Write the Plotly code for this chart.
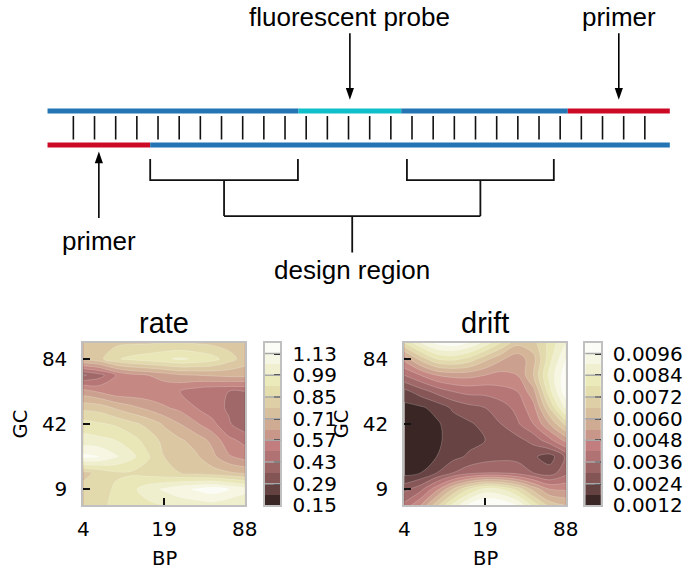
import numpy as np
import plotly.graph_objects as go

W, H = 696, 580

# ---------------- data ----------------
bp_ticktext = ['4', '19', '88']
bp_tickpos = [0, 5, 10]
gc_ticktext = ['9', '42', '84']
gc_tickpos = [1, 5, 9]
grid_x = list(range(11))
grid_y = list(range(11))

# rows listed top (high GC) -> bottom (low GC)
rate_rows = [
    [0.74, 0.75, 0.76, 0.77, 0.77, 0.78, 0.78, 0.77, 0.76, 0.75, 0.74],
    [0.73, 0.76, 0.84, 0.87, 0.89, 0.91, 0.93, 0.91, 0.88, 0.81, 0.75],
    [0.35, 0.40, 0.50, 0.55, 0.57, 0.60, 0.63, 0.64, 0.65, 0.66, 0.66],
    [0.60, 0.56, 0.52, 0.52, 0.52, 0.52, 0.50, 0.46, 0.44, 0.43, 0.43],
    [0.76, 0.75, 0.70, 0.66, 0.62, 0.58, 0.55, 0.50, 0.46, 0.42, 0.40],
    [0.88, 0.86, 0.84, 0.80, 0.76, 0.70, 0.64, 0.58, 0.52, 0.44, 0.38],
    [0.95, 0.94, 0.92, 0.88, 0.82, 0.76, 0.72, 0.68, 0.62, 0.52, 0.48],
    [1.08, 1.06, 1.00, 0.94, 0.86, 0.78, 0.76, 0.72, 0.66, 0.58, 0.54],
    [0.76, 0.80, 0.84, 0.84, 0.82, 0.80, 0.78, 0.76, 0.74, 0.72, 0.70],
    [0.80, 0.82, 0.86, 0.90, 0.96, 1.00, 1.04, 1.07, 1.10, 1.06, 1.02],
    [0.82, 0.84, 0.86, 0.88, 0.90, 0.92, 0.94, 0.95, 0.96, 0.94, 0.92],
]
drift_rows = [
    [0.0072, 0.0084, 0.0092, 0.0094, 0.0090, 0.0082, 0.0072, 0.0062, 0.0064, 0.0074, 0.0084],
    [0.0050, 0.0062, 0.0072, 0.0074, 0.0070, 0.0062, 0.0055, 0.0050, 0.0058, 0.0076, 0.0090],
    [0.0036, 0.0042, 0.0048, 0.0050, 0.0050, 0.0048, 0.0046, 0.0048, 0.0060, 0.0080, 0.0094],
    [0.0022, 0.0027, 0.0032, 0.0036, 0.0038, 0.0038, 0.0040, 0.0042, 0.0052, 0.0076, 0.0094],
    [0.0016, 0.0017, 0.0020, 0.0025, 0.0028, 0.0030, 0.0033, 0.0038, 0.0046, 0.0066, 0.0086],
    [0.0013, 0.0014, 0.0017, 0.0021, 0.0023, 0.0026, 0.0030, 0.0035, 0.0042, 0.0054, 0.0068],
    [0.0013, 0.0014, 0.0017, 0.0020, 0.0022, 0.0024, 0.0025, 0.0028, 0.0032, 0.0040, 0.0050],
    [0.0014, 0.0015, 0.0018, 0.0022, 0.0025, 0.0027, 0.0028, 0.0028, 0.0025, 0.0021, 0.0031],
    [0.0016, 0.0018, 0.0024, 0.0030, 0.0034, 0.0036, 0.0036, 0.0034, 0.0030, 0.0027, 0.0034],
    [0.0028, 0.0034, 0.0046, 0.0060, 0.0072, 0.0080, 0.0078, 0.0070, 0.0058, 0.0048, 0.0047],
    [0.0038, 0.0048, 0.0064, 0.0080, 0.0092, 0.0098, 0.0096, 0.0090, 0.0076, 0.0064, 0.0060],
]
rate_edges = dict(lo=0.15, hi=1.20, step=0.07)
drift_edges = dict(lo=0.0012, hi=0.0102, step=0.0006)
rate_cbar_ticks = [0.15, 0.29, 0.43, 0.57, 0.71, 0.85, 0.99, 1.13]
drift_cbar_ticks = [0.0012, 0.0024, 0.0036, 0.0048, 0.0060, 0.0072, 0.0084, 0.0096]

# schematic DNA (positions in base-pair units along the strand)
strand_length = 29.4
top_segments = [(0.0, 11.86, 'blue'), (11.86, 16.71, 'cyan'), (16.71, 24.58, 'blue'), (24.58, 29.4, 'red')]
bottom_segments = [(0.0, 4.85, 'red'), (4.85, 29.4, 'blue')]
n_rungs = 28
first_rung = 1.22
design_left = (4.85, 11.83)
design_right = (16.98, 23.92)
labels_top = [('fluorescent probe', top_segments[1]), ('primer', top_segments[3])]
label_bottom = ('primer', bottom_segments[0])
label_design = 'design region'

# ---------------- styling ----------------
seg_colors = {'blue': '#2376b3', 'cyan': '#0fbfc9', 'red': '#cc0a26'}
PX_PER_BP = 21.76
X0_PX = 42.7
Y_TOP_STRAND, Y_BOT_STRAND = 112.5, 147.3
Y_RUNG = (117.7, 141.7)
Y_BRACKET = (161.7, 183.3, 220.0, 257.3)
FONT_SANS = 'Liberation Sans, Arial, sans-serif'
FONT_DJ = 'DejaVu Sans, sans-serif'
TICK_FS = 20
DIAG_FS = 26


def pink(x):
    x = np.asarray(x, dtype=float)
    rh = np.clip(x / 0.365079, 0, 1)
    gh = np.clip((x - 0.365079) / (0.746032 - 0.365079), 0, 1)
    bh = np.clip((x - 0.746032) / (1 - 0.746032), 0, 1)
    r = np.sqrt((2 * x + rh) / 3)
    g = np.sqrt((2 * x + gh) / 3)
    b = np.sqrt((2 * x + bh) / 3)
    return r, g, b


NB = 15
band_cols = []
for i in range(NB):
    r, g, b = pink((i + 0.5) / NB)
    band_cols.append('rgb(%d,%d,%d)' % (round(float(r) * 255), round(float(g) * 255), round(float(b) * 255)))
cscale = [[i / (NB - 1), c] for i, c in enumerate(band_cols)]

fig = go.Figure()


def dx(a, b):
    return [a / W, b / W]


def dy(top, bot):
    return [(H - bot) / H, (H - top) / H]


PLOT_TOP, PLOT_BOT = 349.5, 516.0
plots = [
    dict(name='rate', rows=rate_rows, edges=rate_edges, ticks=rate_cbar_ticks, fmt='%.2f',
         xd=dx(79.5, 245.5), cbd=dx(266.2, 282.2), xa='x', ya='y', cxa='x3', cya='y3'),
    dict(name='drift', rows=drift_rows, edges=drift_edges, ticks=drift_cbar_ticks, fmt='%.4f',
         xd=dx(409.5, 575.5), cbd=dx(595.5, 611.5), xa='x2', ya='y2', cxa='x4', cya='y4'),
]

ax_common = dict(showline=True, linecolor='#c0c0c0', linewidth=2, mirror=True,
                 showgrid=False, zeroline=False, ticks='inside', ticklen=7, tickwidth=2,
                 tickcolor='#111111', tickfont=dict(family=FONT_DJ, size=TICK_FS, color='#000000'))

layout_axes = {}
shapes = []
annotations = []

for k, p in enumerate(plots):
    e = p['edges']
    z = np.array(p['rows'][::-1])
    fig.add_trace(go.Contour(
        x=grid_x, y=grid_y, z=z, xaxis=p['xa'], yaxis=p['ya'],
        colorscale=cscale, showscale=False,
        contours=dict(start=e['lo'] + e['step'], end=e['hi'] - 2 * e['step'] + 1e-12, size=e['step'],
                      coloring='fill'),
        line=dict(color='rgba(255,255,255,0.35)', width=0.6, smoothing=1.0),
        hoverinfo='skip'))
    nb = int(round((e['hi'] - e['lo']) / e['step']))
    mids = [e['lo'] + (i + 0.5) * e['step'] for i in range(nb)]
    fig.add_trace(go.Heatmap(x=[0.5], y=mids, z=[[i] for i in range(nb)], zmin=0, zmax=nb - 1,
                             colorscale=cscale, showscale=False, xaxis=p['cxa'], yaxis=p['cya'],
                             hoverinfo='skip'))
    xs = '' if k == 0 else str(k + 1)
    cxs = str(k + 3)
    layout_axes['xaxis' + xs] = dict(ax_common, domain=p['xd'], range=[0, 10], anchor=p['ya'],
                                     tickvals=bp_tickpos, ticktext=bp_ticktext, ticklabelstandoff=5)
    layout_axes['yaxis' + xs] = dict(ax_common, domain=dy(PLOT_TOP, PLOT_BOT), range=[0, 10], anchor=p['xa'],
                                     tickvals=gc_tickpos, ticktext=gc_ticktext, ticklabelstandoff=10)
    layout_axes['xaxis' + cxs] = dict(domain=p['cbd'], range=[0, 1], anchor=p['cya'], showline=True,
                                      linecolor='#c0c0c0', linewidth=2, mirror=True, showgrid=False,
                                      zeroline=False, showticklabels=False, ticks='')
    layout_axes['yaxis' + cxs] = dict(ax_common, domain=dy(PLOT_TOP, PLOT_BOT), range=[e['lo'], e['hi']],
                                      anchor=p['cxa'], side='right', tickvals=p['ticks'],
                                      ticktext=[p['fmt'] % t for t in p['ticks']], ticklen=6,
                                      ticklabelstandoff=6)
    for t in p['ticks'][1:]:
        shapes.append(dict(type='line', xref=p['cxa'] + ' domain', yref=p['cya'], x0=0, x1=1, y0=t, y1=t,
                           line=dict(color='#a8a8a8', width=1.5), layer='above'))
    annotations += [
        dict(text=p['name'], xref=p['xa'] + ' domain', yref=p['ya'] + ' domain', x=0.5, y=1,
             yshift=19.5, showarrow=False, yanchor='middle',
             font=dict(family=FONT_SANS, size=29, color='#000000')),
        dict(text='GC', xref=p['xa'] + ' domain', yref=p['ya'] + ' domain', x=0, y=0.5,
             xshift=-63, showarrow=False, textangle=-90, xanchor='center', yanchor='middle',
             font=dict(family=FONT_DJ, size=19.5, color='#000000')),
        dict(text='BP', xref=p['xa'] + ' domain', yref=p['ya'] + ' domain', x=0.5, y=0,
             yshift=-53, showarrow=False, yanchor='middle',
             font=dict(family=FONT_DJ, size=19.5, color='#000000')),
    ]

# ---------------- DNA schematic ----------------
DX, DY = 'x5', 'y5'
for segs, yv in ((top_segments, Y_TOP_STRAND), (bottom_segments, Y_BOT_STRAND)):
    for a, b, c in segs:
        fig.add_trace(go.Scatter(x=[a, b], y=[yv, yv], mode='lines', xaxis=DX, yaxis=DY,
                                 line=dict(color=seg_colors[c], width=5), hoverinfo='skip'))
rx, ry = [], []
for i in range(n_rungs):
    xv = first_rung + i
    rx += [xv, xv, None]
    ry += [Y_RUNG[0], Y_RUNG[1], None]
fig.add_trace(go.Scatter(x=rx, y=ry, mode='lines', xaxis=DX, yaxis=DY,
                         line=dict(color='#111111', width=1.6), hoverinfo='skip'))

lc = sum(design_left) / 2
rc = sum(design_right) / 2
cc = (lc + rc) / 2
bx, by = [], []
for a, b in (design_left, design_right):
    m = (a + b) / 2
    bx += [a, a, b, b, None, m, m, None]
    by += [Y_BRACKET[0], Y_BRACKET[1], Y_BRACKET[1], Y_BRACKET[0], None, Y_BRACKET[1], Y_BRACKET[2], None]
bx += [lc, rc, None, cc, cc]
by += [Y_BRACKET[2], Y_BRACKET[2], None, Y_BRACKET[2], Y_BRACKET[3]]
fig.add_trace(go.Scatter(x=bx, y=by, mode='lines', xaxis=DX, yaxis=DY,
                         line=dict(color='#111111', width=1.8), hoverinfo='skip'))

HL, HW = 12.0, 4.2  # arrow head length / half-width in px


def arrow(xc, ytail, ytip):
    sgn = 1 if ytip > ytail else -1
    ybase = ytip - sgn * HL
    fig.add_trace(go.Scatter(x=[xc, xc], y=[ytail, ybase + sgn * 1], mode='lines', xaxis=DX, yaxis=DY,
                             line=dict(color='#000000', width=1.6), hoverinfo='skip'))
    hw = HW / PX_PER_BP
    shapes.append(dict(type='path', xref=DX, yref=DY,
                       path='M %f,%f L %f,%f L %f,%f Z' % (xc, ytip, xc - hw, ybase, xc + hw, ybase),
                       fillcolor='#000000', line=dict(width=0)))


for text, seg in labels_top:
    xc = (seg[0] + seg[1]) / 2
    arrow(xc, 33, 101)
    annotations.append(dict(text=text, x=xc, y=16, xref=DX, yref=DY, showarrow=False,
                            font=dict(family=FONT_SANS, size=DIAG_FS, color='#000000')))
text, seg = label_bottom
xc = (seg[0] + seg[1]) / 2
arrow(xc, 222, 154)
annotations.append(dict(text=text, x=xc, y=246, xref=DX, yref=DY, showarrow=False,
                        font=dict(family=FONT_SANS, size=DIAG_FS, color='#000000')))
annotations.append(dict(text=label_design, x=cc, y=275, xref=DX, yref=DY, showarrow=False,
                        font=dict(family=FONT_SANS, size=DIAG_FS, color='#000000')))

layout_axes['xaxis5'] = dict(domain=[0, 1], range=[-X0_PX / PX_PER_BP, (W - X0_PX) / PX_PER_BP],
                             visible=False, anchor='y5')
layout_axes['yaxis5'] = dict(domain=[0, 1], range=[H, 0], visible=False, anchor='x5')

fig.update_layout(width=W, height=H, margin=dict(l=0, r=0, t=0, b=0), showlegend=False,
                  paper_bgcolor='white', plot_bgcolor='rgba(0,0,0,0)',
                  shapes=shapes, annotations=annotations, **layout_axes)
fig.write_html('out.html')
